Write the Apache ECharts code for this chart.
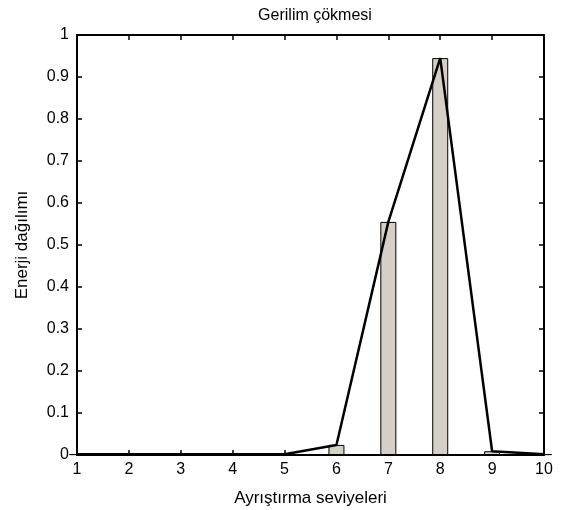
<!DOCTYPE html>
<html><head><meta charset="utf-8">
<script src="https://cdn.jsdelivr.net/npm/echarts@6/dist/echarts.min.js"></script>
<style>html,body{margin:0;padding:0;background:#fff}#c{width:566px;height:510px}</style>
</head><body><div id="c"></div>
<script>
var levels = [1, 2, 3, 4, 5, 6, 7, 8, 9, 10];
var energy = [0.002, 0.002, 0.002, 0.002, 0.002, 0.024, 0.555, 0.945, 0.009, 0.002];
var titleText = 'Gerilim çökmesi';
var xName = 'Ayrıştırma seviyeleri';
var yName = 'Enerji dağılımı';

var pts = levels.map(function (l, i) { return [l, energy[i]]; });
var font = 'Liberation Sans, Arial, sans-serif';
var axisCommon = {
  axisLine: { show: true, onZero: false, lineStyle: { color: '#000', width: 2 } },
  axisTick: { show: true, inside: true, length: 5, lineStyle: { color: '#000', width: 1.5 } },
  splitLine: { show: false }
};
var chart = echarts.init(document.getElementById('c'), null, { renderer: 'canvas' });
chart.setOption({
  animation: false,
  title: { text: titleText, left: 310, top: 3, textAlign: 'center',
    textStyle: { fontFamily: font, fontSize: 16, fontWeight: 'normal', color: '#000' } },
  grid: { left: 77, right: 22, top: 35, bottom: 55, containLabel: false, outerBoundsMode: 'none' },
  xAxis: [
    Object.assign({ type: 'value', min: 1, max: 10, interval: 1, position: 'bottom',
      name: xName, nameLocation: 'middle', nameGap: 35,
      nameTextStyle: { fontFamily: font, fontSize: 17, color: '#000' },
      axisLabel: { fontFamily: font, fontSize: 16, color: '#000', margin: 7 } }, axisCommon),
    Object.assign({ type: 'value', min: 1, max: 10, interval: 1, position: 'top',
      axisLabel: { show: false } }, axisCommon)
  ],
  yAxis: [
    Object.assign({ type: 'value', min: 0, max: 1, interval: 0.1, position: 'left',
      name: yName, nameLocation: 'middle', nameGap: 46,
      nameTextStyle: { fontFamily: font, fontSize: 17, color: '#000' },
      axisLabel: { fontFamily: font, fontSize: 16, color: '#000', margin: 8 } }, axisCommon),
    Object.assign({ type: 'value', min: 0, max: 1, interval: 0.1, position: 'right',
      axisLabel: { show: false } }, axisCommon)
  ],
  series: [
    { type: 'bar', data: pts, barWidth: 16, clip: true,
      itemStyle: { color: '#d4d0c8', borderColor: '#000', borderWidth: 1 } },
    { type: 'line', data: pts, showSymbol: false, symbol: 'none', clip: true,
      lineStyle: { color: '#000', width: 2.5 }, z: 5 }
  ]
});
</script></body></html>
